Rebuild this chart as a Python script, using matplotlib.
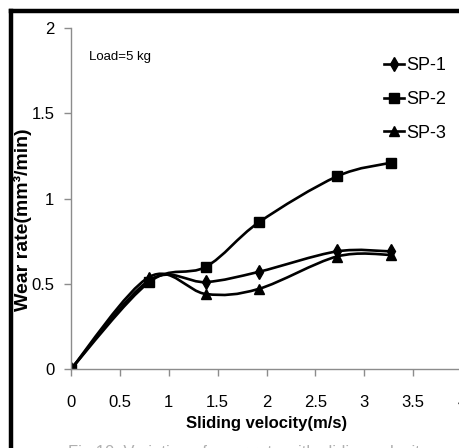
import numpy as np
import matplotlib.pyplot as plt
from matplotlib.path import Path
from matplotlib.patches import PathPatch
from matplotlib.lines import Line2D

plt.rcParams['font.family'] = ['Liberation Sans Narrow', 'Liberation Sans', 'DejaVu Sans']

velocity = [0, 0.8, 1.38, 1.92, 2.72, 3.27]
sp1 = [0, 0.52, 0.51, 0.57, 0.69, 0.69]
sp2 = [0, 0.51, 0.60, 0.86, 1.13, 1.21]
sp3 = [0, 0.54, 0.44, 0.47, 0.66, 0.67]
series = [("SP-1", sp1, "d", 7), ("SP-2", sp2, "s", 6.5), ("SP-3", sp3, "^", 7)]


def smooth_path(x, y):
    # excel-like smoothed line: catmull-rom tangents as bezier control points
    p = np.column_stack([x, y]).astype(float)
    n = len(p)
    verts = [p[0]]
    codes = [Path.MOVETO]
    for i in range(n - 1):
        prev = p[max(i - 1, 0)]
        nxt = p[min(i + 2, n - 1)]
        c1 = p[i] + (p[i + 1] - prev) / 6
        c2 = p[i + 1] - (nxt - p[i]) / 6
        verts += [c1, c2, p[i + 1]]
        codes += [Path.CURVE4] * 3
    return Path(verts, codes)


fig = plt.figure(figsize=(4.59, 4.48), dpi=100)
ax = fig.add_axes([0.1547, 0.1763, 0.852, 0.761])

handles = []
for name, vals, mk, ms in series:
    ax.add_patch(PathPatch(smooth_path(velocity, vals), fill=False, ec="black", lw=1.9,
                           capstyle="round", joinstyle="round"))
    ax.plot(velocity, vals, ls="none", marker=mk, ms=ms, color="black")
    handles.append(Line2D([], [], color="black", lw=1.9, marker=mk, ms=ms, label=name))

ax.set_xlim(0, 4)
ax.set_ylim(0, 2)
ax.set_xticks([0, 0.5, 1, 1.5, 2, 2.5, 3, 3.5, 4])
ax.set_xticklabels(["0", "0.5", "1", "1.5", "2", "2.5", "3", "3.5", "4"])
ax.set_yticks([0, 0.5, 1, 1.5, 2])
ax.set_yticklabels(["0", "0.5", "1", "1.5", "2"])
for s in ["top", "right"]:
    ax.spines[s].set_visible(False)
for s in ["left", "bottom"]:
    ax.spines[s].set_color("#8c8c8c")
    ax.spines[s].set_linewidth(1.0)
ax.tick_params(axis="both", colors="#8c8c8c", labelcolor="black", labelsize=12,
               length=5, width=1.0)
ax.tick_params(axis="x", pad=14)
ax.tick_params(axis="y", pad=7)

ax.set_xlabel("Sliding velocity(m/s)", fontsize=12, fontweight="bold", va="center")
ax.xaxis.set_label_coords(0.5, -0.161)
ax.set_ylabel("Wear rate(mm\u00b3/min)", fontsize=14, fontweight="bold", va="center")
ax.yaxis.set_label_coords(-0.124, 0.437)

ax.text(0.046, 0.915, "Load=5 kg", transform=ax.transAxes, fontsize=9.5, va="center")

ax.legend(handles=handles, loc="upper left", bbox_to_anchor=(0.783, 0.935), frameon=False,
          fontsize=13, handlelength=1.1, handletextpad=0.1, labelspacing=0.92,
          borderaxespad=0)

# black frame of the scanned figure
fig.add_artist(Line2D([11 / 459, 11 / 459], [0, 1 - 11 / 448], color="black", lw=3.2,
                      transform=fig.transFigure))
fig.add_artist(Line2D([11 / 459, 1], [1 - 11 / 448, 1 - 11 / 448], color="black", lw=3.2,
                      transform=fig.transFigure))

fig.text(68 / 459, 1 - 445 / 448, "Fig.10. Variation of wear rate with sliding velocity",
         color="#b0b0b0", fontsize=12, va="top")

fig.savefig("out.png", dpi=100)
